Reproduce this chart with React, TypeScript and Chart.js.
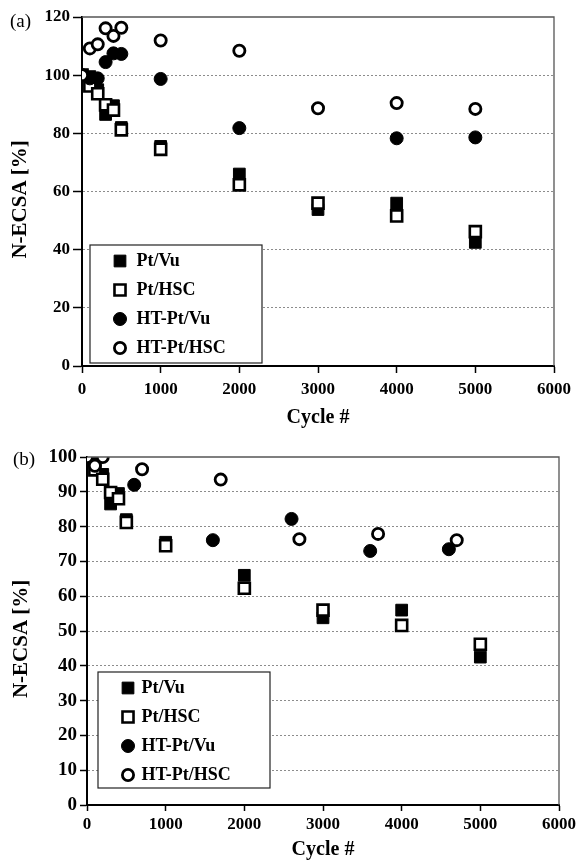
import React, { useEffect, useRef } from 'react';
import { Chart, registerables } from 'chart.js';
import { drawPoint } from 'chart.js/helpers';

Chart.register(...registerables);

const FONT = '"Liberation Serif", "Times New Roman", serif';
const W = 579;
const H = 430;

// x-axis ticks shared by both panels
const cycleTicks = [0, 1000, 2000, 3000, 4000, 5000, 6000];

// Pt catalysts (same runs shown in both panels)
const ptCycles = [0, 100, 200, 300, 400, 500, 1000, 2000, 3000, 4000, 5000];
const ptVu = [100, 99.5, 95, 86.5, 89.5, 82, 75.5, 66, 53.8, 56, 42.5];
const ptHsc = [100, 96.3, 93.6, 89.8, 88, 81.2, 74.5, 62.3, 56, 51.6, 46.2];

// Panel (a)
const yTicksA = [0, 20, 40, 60, 80, 100, 120];
const htVuCyclesA = [0, 100, 200, 300, 400, 500, 1000, 2000, 4000, 5000];
const htVuA = [100, 98.9, 98.9, 104.5, 107.5, 107.3, 98.7, 81.8, 78.3, 78.6];
const htHscCyclesA = [0, 100, 200, 300, 400, 500, 1000, 2000, 3000, 4000, 5000];
const htHscA = [100, 109.2, 110.6, 116.1, 113.5, 116.3, 111.9, 108.4, 88.6, 90.4, 88.4];

// Panel (b)
const yTicksB = [0, 10, 20, 30, 40, 50, 60, 70, 80, 90, 100];
const htVuCyclesB = [0, 600, 1600, 2600, 3600, 4600];
const htVuB = [100, 92, 76.1, 82.2, 73, 73.5];
const htHscCyclesB = [0, 100, 200, 700, 1700, 2700, 3700, 4700];
const htHscB = [100, 97.5, 100, 96.5, 93.5, 76.4, 77.9, 76.1];

const seriesLabels = ['Pt/Vu', 'Pt/HSC', 'HT-Pt/Vu', 'HT-Pt/HSC'];

const markerStyles = [
  { pointStyle: 'rect', radius: 8.3, fill: '#000', width: 1 },
  { pointStyle: 'rect', radius: 7.8, fill: '#fff', width: 2.6 },
  { pointStyle: 'circle', radius: 6.5, fill: '#000', width: 1 },
  { pointStyle: 'circle', radius: 5.6, fill: '#fff', width: 2.8 },
];

const toPoints = (xs: number[], ys: number[]) => xs.map((x, i) => ({ x, y: ys[i] }));

// frame, boxed legend and panel tag
const panelDecor = {
  id: 'panelDecor',
  afterDraw(chart: any, _args: any, opts: any) {
    const { ctx, chartArea: a } = chart;
    ctx.save();
    ctx.strokeStyle = '#555';
    ctx.lineWidth = 1.3;
    ctx.beginPath();
    ctx.moveTo(a.left, a.top);
    ctx.lineTo(a.right, a.top);
    ctx.lineTo(a.right, a.bottom);
    ctx.stroke();

    const lg = opts.legend;
    ctx.fillStyle = '#fff';
    ctx.fillRect(lg.x, lg.y, lg.w, lg.h);
    ctx.strokeStyle = '#222';
    ctx.lineWidth = 1.2;
    ctx.strokeRect(lg.x, lg.y, lg.w, lg.h);
    chart.data.datasets.forEach((ds: any, i: number) => {
      const y = lg.rows[i];
      ctx.fillStyle = ds.pointBackgroundColor;
      ctx.strokeStyle = ds.pointBorderColor;
      ctx.lineWidth = ds.pointBorderWidth;
      drawPoint(ctx, { pointStyle: ds.pointStyle, radius: ds.pointRadius, borderWidth: ds.pointBorderWidth, rotation: 0 } as any, lg.markerX, y);
      ctx.fillStyle = '#000';
      ctx.font = `bold 18px ${FONT}`;
      ctx.textBaseline = 'middle';
      ctx.textAlign = 'left';
      ctx.fillText(ds.label, lg.textX, y);
    });

    const tag = opts.tag;
    ctx.fillStyle = '#000';
    ctx.font = `19px ${FONT}`;
    ctx.textBaseline = 'middle';
    ctx.textAlign = 'left';
    ctx.fillText(tag.text, tag.x, tag.y);
    ctx.restore();
  },
};

function buildConfig(p: any): any {
  const yMax = p.yTicks[p.yTicks.length - 1];
  return {
    type: 'scatter',
    data: {
      datasets: p.series.map((s: any, i: number) => ({
        label: seriesLabels[i],
        data: s,
        order: 4 - i,
        pointStyle: markerStyles[i].pointStyle,
        pointRadius: markerStyles[i].radius,
        pointHoverRadius: markerStyles[i].radius,
        pointBackgroundColor: markerStyles[i].fill,
        pointBorderColor: '#000',
        pointBorderWidth: markerStyles[i].width,
        showLine: false,
      })),
    },
    options: {
      responsive: false,
      animation: false,
      events: [],
      layout: { padding: { left: 0, top: p.area.top, right: W - p.area.right, bottom: 0 } },
      plugins: {
        legend: { display: false },
        tooltip: { enabled: false },
        panelDecor: { legend: p.legend, tag: p.tag },
      },
      scales: {
        x: {
          type: 'linear',
          min: cycleTicks[0],
          max: cycleTicks[cycleTicks.length - 1],
          afterBuildTicks: (s: any) => { s.ticks = cycleTicks.map((v) => ({ value: v })); },
          afterFit: (s: any) => { s.height = H - p.area.bottom; },
          border: { display: true, color: '#000', width: 2 },
          grid: { drawOnChartArea: false, drawTicks: true, tickLength: p.xTickLen, tickColor: '#000', tickWidth: 1.5 },
          ticks: {
            color: '#000', padding: p.xTickPad, maxRotation: 0,
            callback: (v: number) => String(v),
            font: { family: FONT, size: 17, weight: 'bold' },
          },
          title: {
            display: true, text: 'Cycle #', color: '#000',
            font: { family: FONT, size: 20, weight: 'bold', lineHeight: 1 },
            padding: { top: 0, bottom: p.xTitlePad },
          },
        },
        y: {
          type: 'linear',
          min: p.yTicks[0],
          max: yMax,
          afterBuildTicks: (s: any) => { s.ticks = p.yTicks.map((v: number) => ({ value: v })); },
          afterFit: (s: any) => { s.width = p.area.left; },
          border: { display: true, color: '#000', width: 2, dash: [2, 2] },
          grid: {
            drawOnChartArea: true,
            color: (c: any) => (c.tick && (c.tick.value === p.yTicks[0] || c.tick.value === yMax) ? 'rgba(0,0,0,0)' : '#8c8c8c'),
            lineWidth: 1,
            tickColor: '#000',
            tickWidth: 1.5,
            tickLength: p.yTickLen,
            tickBorderDash: [],
          },
          ticks: {
            color: '#000', padding: 3,
            callback: (v: number) => String(v),
            font: { family: FONT, size: p.yFont, weight: 'bold' },
          },
          title: {
            display: true, text: 'N-ECSA [%]   ', color: '#000',
            font: { family: FONT, size: 21, weight: 'bold', lineHeight: 1 },
            padding: { top: p.yTitlePad, bottom: 0 },
          },
        },
      },
    },
    plugins: [panelDecor],
  };
}

const panelA = {
  area: { left: 82, right: 554, top: 17, bottom: 366 },
  yTicks: yTicksA,
  yFont: 17,
  yTickLen: 9,
  xTickLen: 7,
  xTickPad: 6,
  xTitlePad: 2,
  yTitlePad: 10,
  series: [toPoints(ptCycles, ptVu), toPoints(ptCycles, ptHsc), toPoints(htVuCyclesA, htVuA), toPoints(htHscCyclesA, htHscA)],
  legend: { x: 90, y: 245, w: 172, h: 118, rows: [261, 290, 319, 348], markerX: 120, textX: 136.5 },
  tag: { text: '(a)', x: 10, y: 22 },
};

const panelB = {
  area: { left: 87, right: 559, top: 27, bottom: 375 },
  yTicks: yTicksB,
  yFont: 19,
  yTickLen: 7,
  xTickLen: 6,
  xTickPad: 3,
  xTitlePad: 0.5,
  yTitlePad: 11,
  series: [toPoints(ptCycles, ptVu), toPoints(ptCycles, ptHsc), toPoints(htVuCyclesB, htVuB), toPoints(htHscCyclesB, htHscB)],
  legend: { x: 98, y: 242, w: 172, h: 116, rows: [258, 287, 316, 345], markerX: 128, textX: 141.5 },
  tag: { text: '(b)', x: 13, y: 30 },
};

function Panel({ panel, top }: { panel: any; top: number }) {
  const ref = useRef<HTMLCanvasElement | null>(null);
  useEffect(() => {
    if (!ref.current) return;
    const chart = new Chart(ref.current, buildConfig(panel));
    return () => chart.destroy();
  }, [panel]);
  return (
    <canvas
      ref={ref}
      width={W}
      height={H}
      style={{ position: 'absolute', left: 0, top, width: W, height: H, display: 'block' }}
    />
  );
}

export default function App() {
  return (
    <div style={{ position: 'absolute', left: 0, top: 0, width: W, height: 2 * H, background: '#fff' }}>
      <Panel panel={panelA} top={0} />
      <Panel panel={panelB} top={H} />
    </div>
  );
}
